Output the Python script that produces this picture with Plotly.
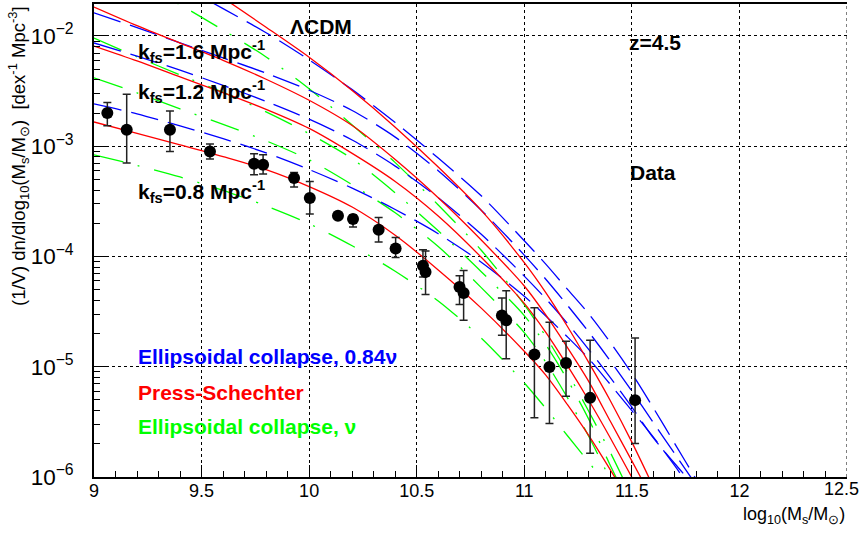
import plotly.graph_objects as go

# ---------------- data points ----------------
data_x = [9.062, 9.152, 9.353, 9.539, 9.744, 9.786, 9.930, 10.003, 10.134, 10.204, 10.323, 10.402,
          10.529, 10.541, 10.699, 10.718, 10.896, 10.916, 11.047, 11.117, 11.194, 11.306, 11.515]
data_y = [2.0e-3, 1.41e-3, 1.41e-3, 8.95e-4, 6.93e-4, 6.79e-4, 5.14e-4, 3.39e-4, 2.34e-4, 2.19e-4, 1.75e-4, 1.18e-4,
          8.26e-5, 7.24e-5, 5.30e-5, 4.67e-5, 2.91e-5, 2.64e-5, 1.29e-5, 9.97e-6, 1.08e-5, 5.22e-6, 4.98e-6]
data_hi = [2.49e-3, 2.96e-3, 2.09e-3, 1.05e-3, 8.53e-4, 8.35e-4, 5.78e-4, 4.79e-4, 2.45e-4, 2.38e-4, 2.26e-4, 1.49e-4,
           1.15e-4, 1.12e-4, 6.7e-5, 7.48e-5, 4.21e-5, 4.9e-5, 3.42e-5, 2.53e-5, 1.70e-5, 1.74e-5, 1.82e-5]
data_lo = [1.53e-3, 7.03e-4, 8.95e-4, 7.64e-4, 5.51e-4, 5.6e-4, 4.26e-4, 2.43e-4, 2.24e-4, 1.85e-4, 1.35e-4, 9.8e-5,
           6.5e-5, 4.51e-5, 3.66e-5, 2.64e-5, 1.93e-5, 1.18e-5, 3.44e-6, 3.06e-6, 5.4e-6, 1.64e-6, 2.01e-6]

# ---------------- model curves ----------------
x_a = [9.0, 9.2, 9.4, 9.6, 9.8, 10.0, 10.2, 10.4, 10.6, 10.8, 11.0, 11.1, 11.2, 11.3, 11.4, 11.5]
x_b = x_a + [11.6]
x_c = [9.4, 9.6, 9.8, 10.0, 10.2, 10.4, 10.6, 10.8, 11.0, 11.1, 11.2, 11.3, 11.4, 11.5, 11.6]
x_d = [9.0, 9.2, 9.4, 9.6, 9.8, 10.0, 10.2, 10.4, 10.6, 10.8, 11.0, 11.1, 11.2, 11.3, 11.4]
x_e = [9.2, 9.4, 9.6, 9.8, 10.0, 10.2, 10.4, 10.6, 10.8, 11.0, 11.1, 11.2, 11.3, 11.4, 11.5]
x_f = [9.0, 9.2, 9.4, 9.6, 9.8, 10.0, 10.2, 10.4, 10.6, 10.8, 11.0, 11.1, 11.2, 11.3, 11.4, 11.5, 11.6, 11.7, 11.8]
x_g = [9.4, 9.6, 9.8, 10.0, 10.2, 10.4, 10.6, 10.8, 11.0, 11.1, 11.2, 11.3, 11.4, 11.5, 11.6, 11.7, 11.8, 11.9]

ps_k08 = [1.66e-3, 1.31e-3, 1.03e-3, 8.04e-4, 6.14e-4, 4.31e-4, 2.81e-4, 1.56e-4, 7.55e-5, 3.40e-5,
          1.38e-5, 8.38e-6, 4.55e-6, 2.37e-6, 1.16e-6, 5.5e-7]
ps_k12 = [8.11e-3, 5.94e-3, 4.25e-3, 3.06e-3, 2.16e-3, 1.45e-3, 8.61e-4, 4.79e-4, 2.33e-4, 9.84e-5,
          3.75e-5, 2.05e-5, 1.03e-5, 4.94e-6, 2.26e-6, 9.94e-7, 4.4e-7]
ps_k16 = [1.83e-2, 1.24e-2, 8.62e-3, 6.02e-3, 4.05e-3, 2.61e-3, 1.54e-3, 7.57e-4, 3.41e-4, 1.41e-4,
          5.40e-5, 2.95e-5, 1.50e-5, 7.34e-6, 3.20e-6, 1.40e-6, 6.05e-7]
ps_lcdm = [3.96e-2, 2.21e-2, 1.20e-2, 6.41e-3, 3.20e-3, 1.49e-3, 6.47e-4, 2.62e-4, 8.79e-5, 4.70e-5,
           2.33e-5, 1.09e-5, 4.92e-6, 2.07e-6, 8.13e-7]

ec_k08 = [8.36e-4, 6.70e-4, 5.26e-4, 3.98e-4, 2.87e-4, 1.98e-4, 1.25e-4, 7.35e-5, 3.95e-5, 1.82e-5,
          7.13e-6, 4.19e-6, 2.38e-6, 1.36e-6, 7.7e-7]
ec_k12 = [4.17e-3, 3.05e-3, 2.18e-3, 1.58e-3, 1.12e-3, 7.53e-4, 4.47e-4, 2.49e-4, 1.23e-4, 5.22e-5,
          2.04e-5, 1.10e-5, 5.26e-6, 2.33e-6, 9.5e-7, 4.0e-7]
ec_k16 = [9.59e-3, 6.45e-3, 4.43e-3, 3.08e-3, 2.05e-3, 1.30e-3, 7.69e-4, 3.78e-4, 1.71e-4, 7.28e-5,
          2.91e-5, 1.58e-5, 7.66e-6, 3.33e-6, 1.27e-6, 5.1e-7]
ec_lcdm = [3.15e-2, 1.92e-2, 1.13e-2, 6.45e-3, 3.32e-3, 1.56e-3, 7.10e-4, 2.93e-4, 1.14e-4, 3.66e-5,
           1.88e-5, 8.92e-6, 3.93e-6, 1.67e-6, 6.59e-7]

ec84_k08 = [2.42e-3, 1.97e-3, 1.53e-3, 1.17e-3, 8.70e-4, 6.15e-4, 4.17e-4, 2.67e-4, 1.61e-4, 8.88e-5,
            4.36e-5, 2.89e-5, 1.87e-5, 1.18e-5, 6.91e-6, 4.00e-6, 2.30e-6, 1.26e-6, 6.63e-7]
ec84_k12 = [8.64e-3, 6.57e-3, 4.89e-3, 3.57e-3, 2.55e-3, 1.76e-3, 1.14e-3, 6.60e-4, 3.41e-4, 1.59e-4,
            6.64e-5, 4.14e-5, 2.48e-5, 1.43e-5, 7.98e-6, 4.31e-6, 2.26e-6, 1.32e-6, 7.88e-7]
ec84_k16 = [1.62e-2, 1.19e-2, 8.66e-3, 6.33e-3, 4.60e-3, 3.22e-3, 2.11e-3, 1.21e-3, 6.00e-4, 2.63e-4,
            1.03e-4, 6.22e-5, 3.62e-5, 2.06e-5, 1.13e-5, 6.00e-6, 3.11e-6, 1.62e-6, 8.40e-7]
ec84_lcdm = [2.90e-2, 1.77e-2, 1.07e-2, 6.07e-3, 3.26e-3, 1.64e-3, 7.81e-4, 3.55e-4, 1.39e-4, 8.53e-5,
             5.06e-5, 3.01e-5, 1.66e-5, 8.68e-6, 4.23e-6, 2.00e-6, 9.43e-7, 4.5e-7]

x_tickvals = [9, 9.5, 10, 10.5, 11, 11.5, 12, 12.5]
x_ticktext = ["9", "9.5", "10", "10.5", "11", "11.5", "12", ""]   # 12.5 drawn separately, kept inside the page

RED, BLUE, GREEN = "#ff0000", "#0000ff", "#00ff00"
FONT = "Liberation Sans, Arial, Helvetica, sans-serif"

fig = go.Figure()

def curve(xs, ys, color, dash):
    fig.add_trace(go.Scatter(x=xs, y=ys, mode="lines", showlegend=False, hoverinfo="skip",
                             line=dict(color=color, width=1.3, dash=dash, shape="spline", smoothing=0.8)))

blue_dash = "28px,10px"
green_dash = "30px,15px,2px,15px"
for xs, ys in [(x_d, ec_k08), (x_a, ec_k12), (x_a, ec_k16), (x_e, ec_lcdm)]:
    curve(xs, ys, GREEN, green_dash)
for xs, ys in [(x_f, ec84_k08), (x_f, ec84_k12), (x_f, ec84_k16), (x_g, ec84_lcdm)]:
    curve(xs, ys, BLUE, blue_dash)
for xs, ys in [(x_a, ps_k08), (x_b, ps_k12), (x_b, ps_k16), (x_c, ps_lcdm)]:
    curve(xs, ys, RED, "solid")

err_plus = [h - y for h, y in zip(data_hi, data_y)]
err_minus = [y - l for y, l in zip(data_y, data_lo)]
fig.add_trace(go.Scatter(x=data_x, y=data_y, mode="markers", showlegend=False,
                         marker=dict(color="black", size=12, symbol="circle"),
                         error_y=dict(type="data", symmetric=False, array=err_plus, arrayminus=err_minus,
                                      color="#222222", thickness=1.5, width=4)))

W, H = 862, 533
L, R, T, B = 94, 15, 4, 56
PW, PH = W - L - R, H - T - B

def px_to_x(px):
    return 9 + (px - 94) / 215.4

def py_to_logy(py):
    return -1.6739 - py * 0.009058

def add_text(text, px, py, color="black", size=21):
    fig.add_annotation(x=px_to_x(px), y=py_to_logy(py), xref="x", yref="y", text=text, showarrow=False,
                       xanchor="left", yanchor="middle", font=dict(family=FONT, size=size, color=color))

add_text("<b>ΛCDM</b>", 288, 27)
add_text("<b>k<sub>fs</sub>=1.6 Mpc<sup>-1</sup></b>", 136, 52)
add_text("<b>k<sub>fs</sub>=1.2 Mpc<sup>-1</sup></b>", 136, 92)
add_text("<b>k<sub>fs</sub>=0.8 Mpc<sup>-1</sup></b>", 136, 192)
add_text("<b>z=4.5</b>", 628, 43)
add_text("<b>Data</b>", 629, 173)
add_text("<b>Ellipsoidal collapse, 0.84ν</b>", 136, 357, BLUE)
add_text("<b>Press-Schechter</b>", 136, 393, RED)
add_text("<b>Ellipsoidal collapse, ν</b>", 136, 427, GREEN)

# last x tick label, right-aligned to the page edge like the reference
fig.add_annotation(x=(861 - L) / PW, y=(H - B - 489) / PH, xref="paper", yref="paper", text="12.5",
                   showarrow=False, xanchor="right", yanchor="middle",
                   font=dict(family=FONT, size=18, color="black"))

# axis titles (paper coords refer to the plot area)
fig.add_annotation(x=(18 - L) / PW, y=(H - B - 4) / PH, xref="paper", yref="paper", textangle=-90,
                   text="(1/V) dn/dlog<sub>10</sub>(M<sub>s</sub>/M<sub>⊙</sub>)  [dex<sup>-1</sup> Mpc<sup>-3</sup>]",
                   showarrow=False, xanchor="center", yanchor="top",
                   font=dict(family=FONT, size=18.5, color="black"))
fig.add_annotation(x=(847 - L) / PW, y=(H - B - 515) / PH, xref="paper", yref="paper",
                   text="log<sub>10</sub>(M<sub>s</sub>/M<sub>⊙</sub>)",
                   showarrow=False, xanchor="right", yanchor="middle",
                   font=dict(family=FONT, size=18, color="black"))

# right frame edge (dotted, as in the reference)
fig.add_shape(type="line", xref="x", yref="paper", x0=12.5, x1=12.5, y0=0, y1=1,
              line=dict(color="black", width=1, dash="dot"))

fig.update_layout(
    width=W, height=H, margin=dict(l=L, r=R, t=T, b=B, autoexpand=False),
    paper_bgcolor="white", plot_bgcolor="white", showlegend=False,
    font=dict(family=FONT, size=18, color="black"),
    xaxis=dict(range=[9, 12.5], tickvals=x_tickvals, ticktext=x_ticktext, showgrid=True, gridcolor="black",
               griddash="dot", gridwidth=1, zeroline=False, showline=True, linecolor="black", linewidth=1.5,
               mirror=True, ticks="inside", ticklen=12, tickcolor="black", tickwidth=1.2, automargin=False,
               minor=dict(ticks="inside", ticklen=6, dtick=0.1, tick0=9, tickcolor="black", showgrid=False),
               tickfont=dict(family=FONT, size=18), ticklabelstandoff=-3),
    yaxis=dict(type="log", range=[-6, -1.71], dtick=1, exponentformat="power", showgrid=True,
               gridcolor="black", griddash="dot", gridwidth=1, zeroline=False, showline=True,
               linecolor="black", linewidth=1.5, mirror=False, automargin=False,
               ticks="inside", ticklen=12, tickcolor="black", tickwidth=1.2,
               minor=dict(ticks="inside", ticklen=6, dtick="D1", tickcolor="black", showgrid=False),
               tickfont=dict(family=FONT, size=18), ticklabelstandoff=15),
)

fig.write_html("out.html", config={"displayModeBar": False},
               post_script="document.body.style.margin='0';document.body.style.padding='0';")
